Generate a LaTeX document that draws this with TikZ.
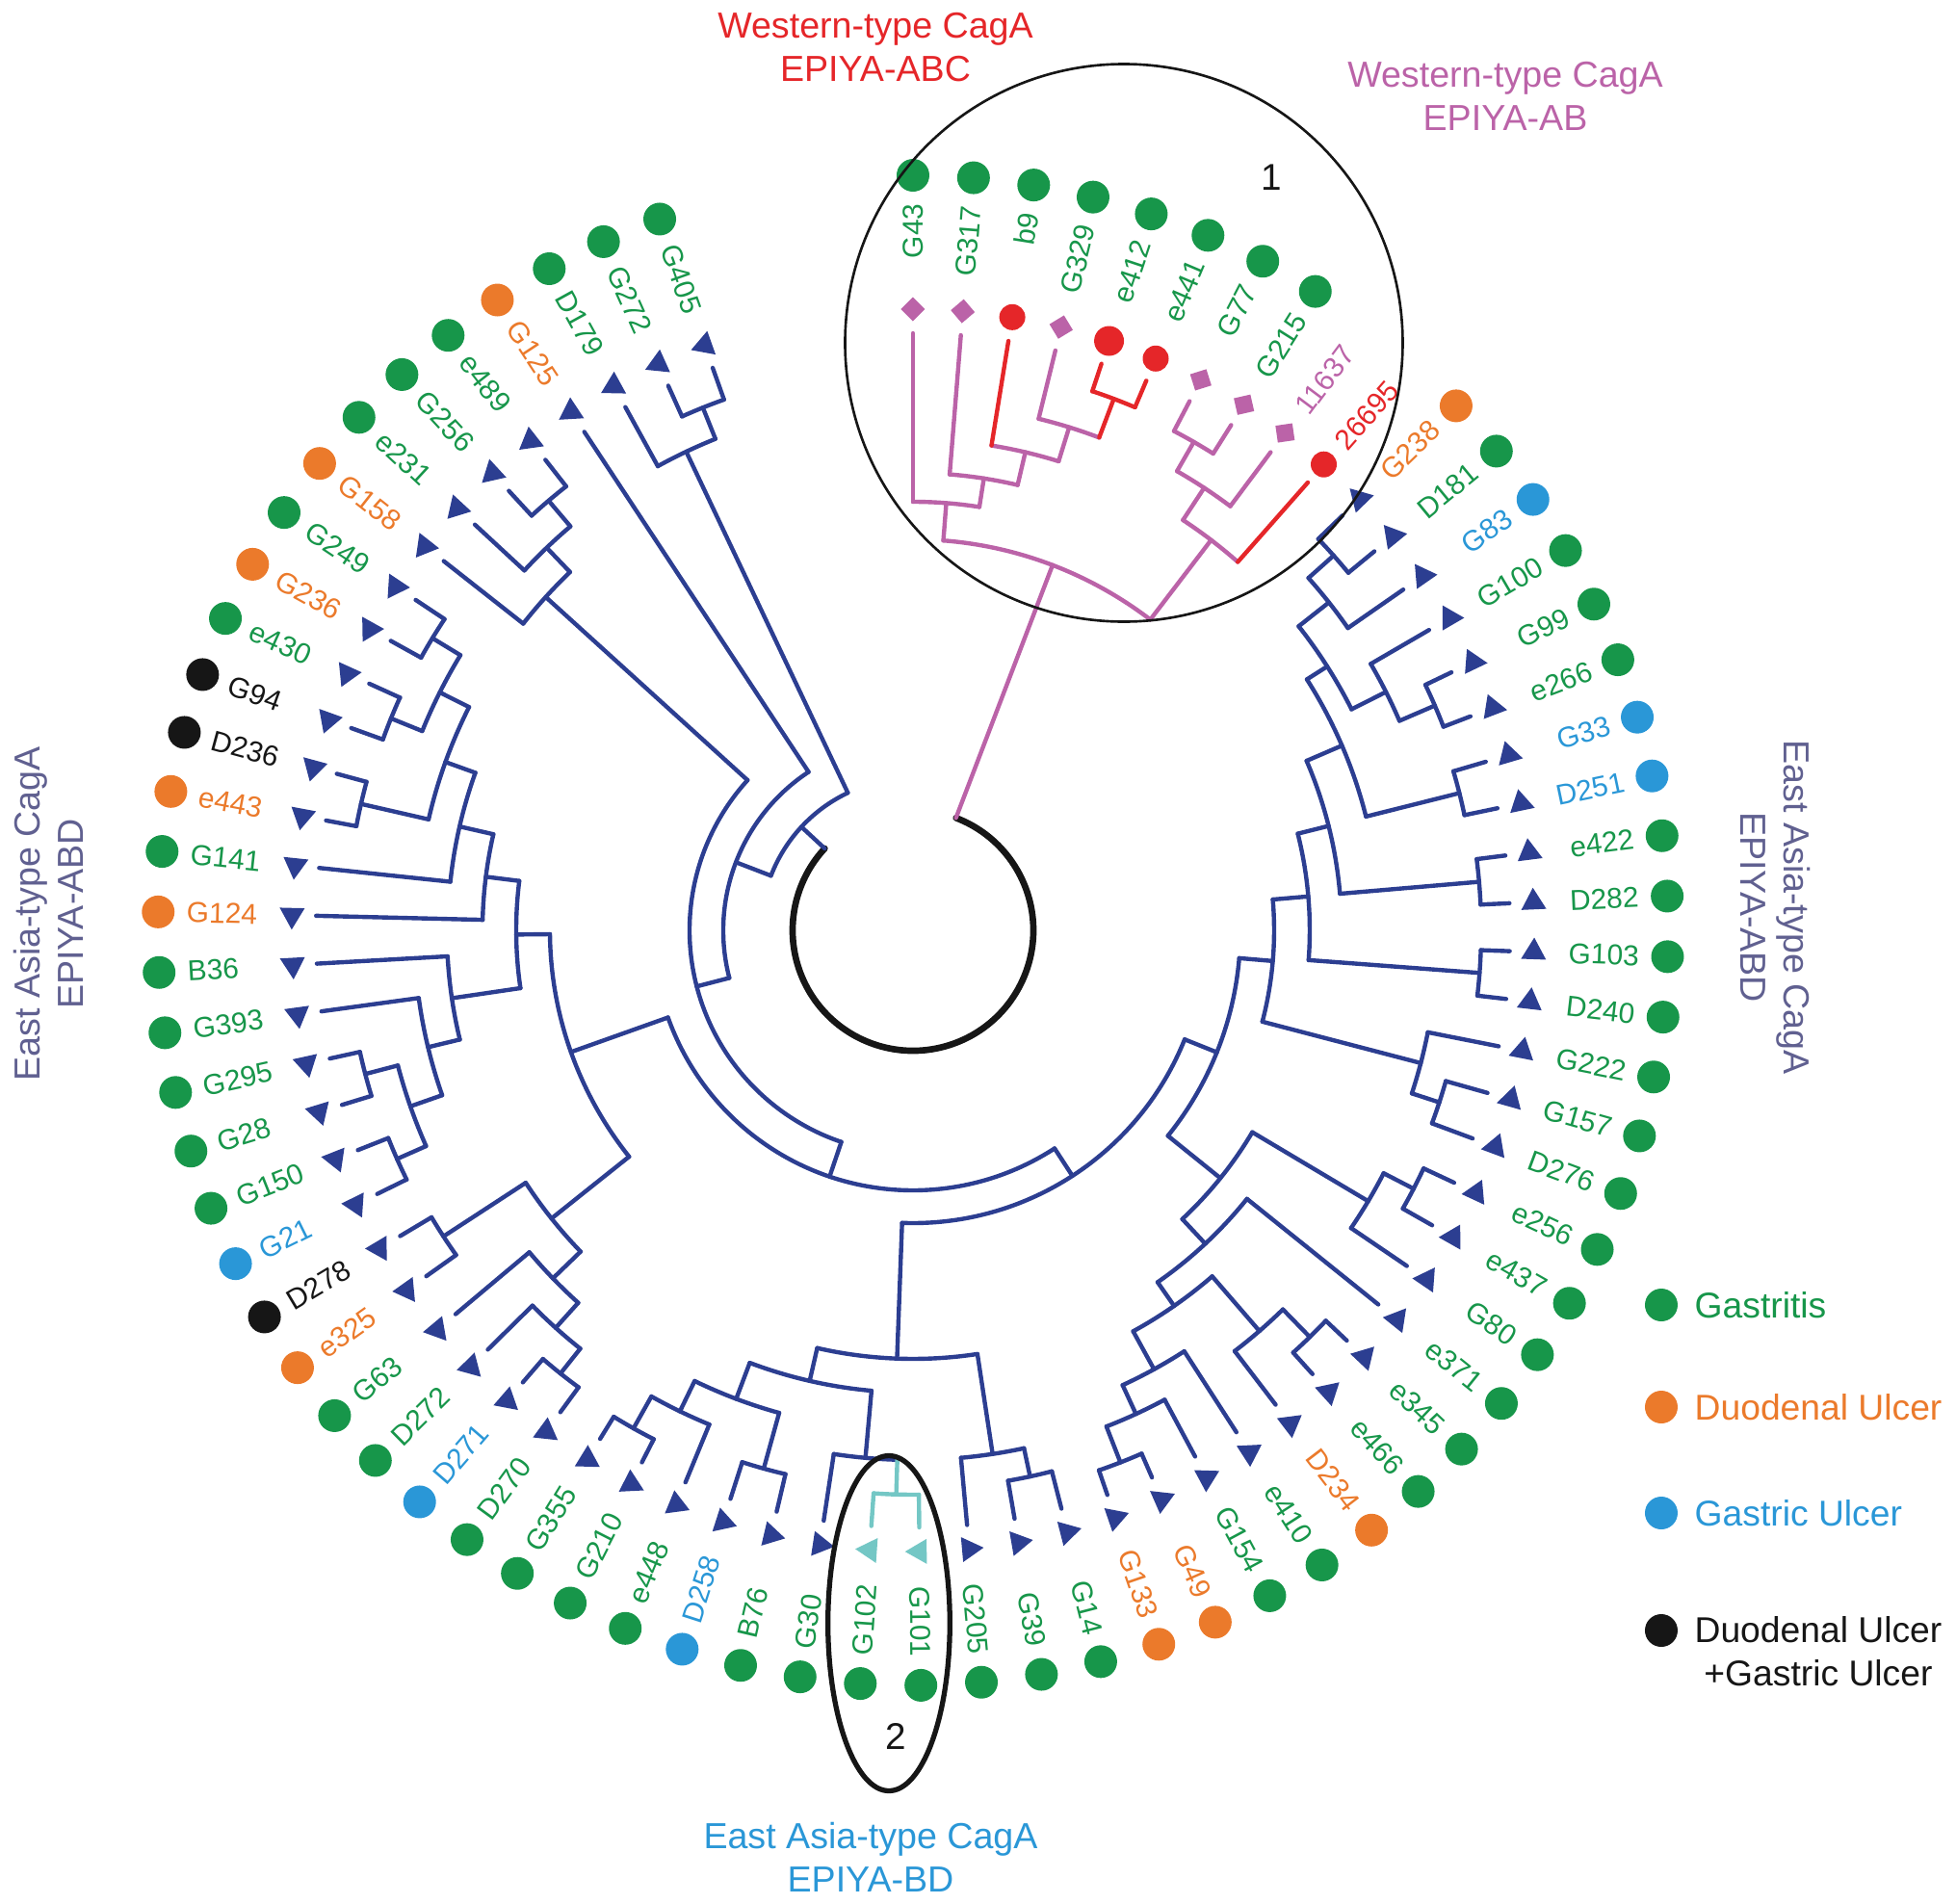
\documentclass[tikz,border=0pt]{standalone}
\usepackage{fontspec}
\setmainfont{Liberation Sans}
\usetikzlibrary{shapes.geometric}
\definecolor{gas}{HTML}{17964A}
\definecolor{duo}{HTML}{EB7A2B}
\definecolor{gul}{HTML}{2A97D7}
\definecolor{tree}{HTML}{2C3E91}
\definecolor{wab}{HTML}{BB63A8}
\definecolor{wabc}{HTML}{E52629}
\definecolor{bd}{HTML}{74C7C5}
\definecolor{abd}{HTML}{606090}
\definecolor{ink}{HTML}{161616}
\begin{document}
\begin{tikzpicture}[line join=round, line cap=round, font=\fontsize{8.5}{10}\selectfont,
  br/.style={line width=1.25pt},
  dot/.style={circle, fill, inner sep=0pt, minimum size=0.34cm},
  tip/.style={regular polygon, regular polygon sides=3, fill=tree, inner sep=0pt, minimum size=0.3cm},
  title/.style={font=\fontsize{10.7}{12.8}\selectfont, align=center, inner sep=0pt},
  legtext/.style={font=\fontsize{10.6}{12.8}\selectfont, inner sep=0pt}]
\useasboundingbox (-9.48,-10.10) rectangle (10.83,9.66);
% leaf k sits at angle 90-4.6k
% root
\draw[line width=1.9pt, ink] (69.08:1.25) arc[start angle=69.08, end angle=-222.84, radius=1.25];
% East Asian clade: arcs r/from/to
\foreach \r/\p/\q in {5.85/10/11, 5.5/10.5/12, 5.9/14/15, 5.5/13/14.5, 5.1/11.25/13.75, 5.85/16/17, 4.85/12.5/16.5, 5.9/18/19, 4.45/14.5/18.5, 5.9/20/21, 4.12/16.5/20.5, 5.75/23/24, 5.45/22/23.5, 3.75/18.5/22.75,
  5.85/25/26, 5.5/25.5/27, 5.9/29/30, 5.5/29.5/31, 5.93/34/35, 5.53/33/34.5, 5.2/32/33.75, 4.75/30.25/32.875, 4.45/28/31.563, 4.1/26.25/29.781, 3.4/20.625/28.016,
  5.5/39.5/41, 5.8/42/43, 5.93/45/46, 5.55/44/45.5, 5.2/42.5/44.75, 4.8/40.25/43.625, 5.8/36/37, 5.5/36.5/38, 4.45/37.25/41.938, 3.04/24.32/39.594,
  5.82/51/52, 5.88/47/48, 5.55/47.5/49, 5.2/48.25/50, 4.8/49.125/51.5, 5.86/53/54, 5.88/55/56, 5.53/53.5/55.5, 5.18/54.5/57, 4.84/55.75/58,
  5.88/61/62, 5.85/63/64, 5.84/65/66, 5.5/63.5/65.5, 5.16/61.5/64.5, 4.83/60/63, 4.47/59/61.5, 4.12/56.875/60.25, 3.77/50.313/58.563, 2.7/31.957/54.438,
  5.85/69/70, 5.5/68/69.5, 5.15/67/68.75, 2.32/43.197/67.875, 1.97/55.536/71, 5.85/73/74, 5.5/72/73.5, 1.58/63.268/72.75}{
  \pgfmathsetmacro\s{90-4.6*\p}\pgfmathsetmacro\e{90-4.6*\q}
  \draw[br, tree] (\s:\r) arc[start angle=\s, end angle=\e, radius=\r];}
% East Asian clade: branches at/from/to
\foreach \p/\a/\b in {10/5.85/6.2, 11/5.85/6.2, 12/5.5/6.2, 13/5.5/6.2, 14/5.9/6.2, 15/5.9/6.2, 16/5.85/6.2, 17/5.85/6.2, 18/5.9/6.2, 19/5.9/6.2, 20/5.9/6.2, 21/5.9/6.2, 22/5.45/6.2, 23/5.75/6.2, 24/5.75/6.2,
  25/5.85/6.2, 26/5.85/6.2, 27/5.5/6.2, 28/4.45/6.2, 29/5.9/6.2, 30/5.9/6.2, 31/5.5/6.2, 32/5.2/6.2, 33/5.53/6.2, 34/5.93/6.2, 35/5.93/6.2, 36/5.8/6.2, 37/5.8/6.2, 38/5.5/6.2,
  41/5.5/6.2, 42/5.8/6.2, 43/5.8/6.2, 44/5.55/6.2, 45/5.93/6.2, 46/5.93/6.2, 47/5.88/6.2, 48/5.88/6.2, 49/5.55/6.2, 50/5.2/6.2, 51/5.82/6.2, 52/5.82/6.2, 53/5.86/6.2, 54/5.86/6.2,
  55/5.88/6.2, 56/5.88/6.2, 57/5.18/6.2, 58/4.84/6.2, 59/4.47/6.2, 60/4.83/6.2, 61/5.88/6.2, 62/5.88/6.2, 63/5.85/6.2, 64/5.85/6.2, 65/5.84/6.2, 66/5.84/6.2,
  67/5.15/6.2, 68/5.5/6.2, 69/5.85/6.2, 70/5.85/6.2, 71/1.97/6.2, 72/5.5/6.2, 73/5.85/6.2, 74/5.85/6.2,
  10.5/5.5/5.85, 11.25/5.1/5.5, 14.5/5.5/5.9, 13.75/5.1/5.5, 12.5/4.85/5.1, 16.5/4.85/5.85, 14.5/4.45/4.85, 18.5/4.45/5.9, 16.5/4.12/4.45, 20.5/4.12/5.9, 18.5/3.75/4.12, 23.5/5.45/5.75, 22.75/3.75/5.45, 20.625/3.4/3.75,
  25.5/5.5/5.85, 26.25/4.1/5.5, 29.5/5.5/5.9, 30.25/4.75/5.5, 34.5/5.53/5.93, 33.75/5.2/5.53, 32.875/4.75/5.2, 31.563/4.45/4.75, 29.781/4.1/4.45, 28.016/3.4/4.1, 24.32/3.04/3.4,
  40.25/4.8/5.5, 42.5/5.2/5.8, 45.5/5.55/5.93, 44.75/5.2/5.55, 43.625/4.8/5.2, 41.938/4.45/4.8, 36.5/5.5/5.8, 37.25/4.45/5.5, 39.594/3.04/4.45, 31.957/2.7/3.04,
  51.5/4.8/5.82, 47.5/5.55/5.88, 48.25/5.2/5.55, 49.125/4.8/5.2, 50.313/3.77/4.8, 53.5/5.53/5.86, 55.5/5.53/5.88, 54.5/5.18/5.53, 55.75/4.84/5.18, 56.875/4.12/4.84,
  61.5/5.16/5.88, 63.5/5.5/5.85, 65.5/5.5/5.84, 64.5/5.16/5.5, 63/4.83/5.16, 61.5/4.47/4.83, 60.25/4.12/4.47, 58.563/3.77/4.12, 54.438/2.7/3.77, 43.197/2.32/2.7,
  69.5/5.5/5.85, 68.75/5.15/5.5, 67.875/2.32/5.15, 55.536/1.97/2.32, 63.268/1.58/1.97, 73.5/5.5/5.85, 72.75/1.58/5.5, 68.009/1.25/1.58}{
  \pgfmathsetmacro\t{90-4.6*\p}
  \draw[br, tree] (\t:\a) -- (\t:\b);}
% EPIYA-BD pair
\draw[br, bd] (-89.4:5.86) arc[start angle=-89.4, end angle=-94, radius=5.86];
\foreach \p/\a/\b in {39/5.86/6.2, 40/5.86/6.2, 39.5/5.5/5.86}{
  \pgfmathsetmacro\t{90-4.6*\p}
  \draw[br, bd] (\t:\a) -- (\t:\b);}
% Western clade
\foreach \r/\p/\q/\c in {4.06/0.969/8.125/wab, 4.45/0/1.938/wab, 4.75/1/2.875/wab, 5.1/2/3.75/wab, 5.47/3/4.5/wab, 5.85/6/7/wab, 5.5/6.5/8/wab, 5.1/7.25/9/wab, 5.9/4/5/wabc}{
  \pgfmathsetmacro\s{90-4.6*\p}\pgfmathsetmacro\e{90-4.6*\q}
  \draw[br, \c] (\s:\r) arc[start angle=\s, end angle=\e, radius=\r];}
\foreach \p/\a/\b/\c in {0/4.45/6.2/wab, 1/4.75/6.2/wab, 3/5.47/6.2/wab, 6/5.85/6.2/wab, 7/5.85/6.2/wab, 8/5.5/6.2/wab, 0.969/4.06/4.45/wab, 1.938/4.45/4.75/wab, 2.875/4.75/5.1/wab,
  3.75/5.1/5.47/wab, 6.5/5.5/5.85/wab, 7.25/5.1/5.5/wab, 8.125/4.06/5.1/wab, 4.547/1.25/4.06/wab, 2/5.1/6.2/wabc, 4/5.9/6.2/wabc, 5/5.9/6.2/wabc, 4.5/5.47/5.9/wabc, 9/5.1/6.2/wabc}{
  \pgfmathsetmacro\t{90-4.6*\p}
  \draw[br, \c] (\t:\a) -- (\t:\b);}
% tip markers
\foreach \k in {10,...,38}{\pgfmathsetmacro\a{90-4.6*\k}\node[tip, rotate=\a] (tip\k) at (\a:6.45) {};}
\foreach \k in {41,...,74}{\pgfmathsetmacro\a{90-4.6*\k}\node[tip, rotate=\a] (tip\k) at (\a:6.45) {};}
\foreach \k in {39,40}{\pgfmathsetmacro\a{90-4.6*\k}\node[tip, fill=bd, rotate=\a+180] (tip\k) at (\a:6.45) {};}
\foreach \k in {0,1,3,6,7,8}{\pgfmathsetmacro\a{90-4.6*\k}\node[regular polygon, regular polygon sides=4, fill=wab, inner sep=0pt, minimum size=0.25cm, rotate=\a+45] (tip\k) at (\a:6.45) {};}
\foreach \k/\d in {2/0.27, 4/0.31, 5/0.27, 9/0.27}{\pgfmathsetmacro\a{90-4.6*\k}\node[circle, fill=wabc, inner sep=0pt, minimum size=\d cm] (tip\k) at (\a:6.45) {};}
% isolates
\foreach \k/\nm/\cl in {0/G43/gas, 1/G317/gas, 2/b9/gas, 3/G329/gas, 4/e412/gas, 5/e441/gas, 6/G77/gas, 7/G215/gas, 8/11637/wab, 9/26695/wabc,
  10/G238/duo, 11/D181/gas, 12/G83/gul, 13/G100/gas, 14/G99/gas, 15/e266/gas, 16/G33/gul, 17/D251/gul, 18/e422/gas, 19/D282/gas, 20/G103/gas, 21/D240/gas,
  22/G222/gas, 23/G157/gas, 24/D276/gas, 25/e256/gas, 26/e437/gas, 27/G80/gas, 28/e371/gas, 29/e345/gas, 30/e466/gas, 31/D234/duo, 32/e410/gas, 33/G154/gas,
  34/G49/duo, 35/G133/duo, 36/G14/gas, 37/G39/gas, 38/G205/gas, 39/G101/gas, 40/G102/gas, 41/G30/gas, 42/B76/gas, 43/D258/gul, 44/e448/gas, 45/G210/gas,
  46/G355/gas, 47/D270/gas, 48/D271/gul, 49/D272/gas, 50/G63/gas, 51/e325/duo, 52/D278/ink, 53/G21/gul, 54/G150/gas, 55/G28/gas, 56/G295/gas, 57/G393/gas,
  58/B36/gas, 59/G124/duo, 60/G141/gas, 61/e443/duo, 62/D236/ink, 63/G94/ink, 64/e430/gas, 65/G236/duo, 66/G249/gas, 67/G158/duo, 68/e231/gas, 69/G256/gas,
  70/e489/gas, 71/G125/duo, 72/D179/gas, 73/G272/gas, 74/G405/gas}{
  \pgfmathsetmacro\a{90-4.6*\k}
  \ifnum\k<40
    \node[text=\cl, rotate=\a, anchor=east, inner sep=0pt] (lab\k) at (\a:7.55) {\nm};
  \else
    \node[text=\cl, rotate=\a+180, anchor=west, inner sep=0pt] (lab\k) at (\a:7.55) {\nm};
  \fi
  \ifnum\k<8 \node[dot, fill=\cl] (dot\k) at (\a:7.84) {};\fi
  \ifnum\k>9 \node[dot, fill=\cl] (dot\k) at (\a:7.84) {};\fi
}
% insets
\draw[line width=0.75pt, ink] (2.19,6.10) circle[radius=2.895];
\draw[line width=1.5pt, ink] (-0.25,-7.195) ellipse[x radius=0.633, y radius=1.74];
\node[font=\fontsize{11}{13}\selectfont, text=ink] (one) at (3.72,7.82) {1};
\node[font=\fontsize{11}{13}\selectfont, text=ink] (two) at (-0.18,-8.37) {2};
% group titles
\node[title, text=wabc] (tabc) at (-0.39,9.17) {Western-type CagA\\EPIYA-ABC};
\node[title, text=wab] (tab) at (6.15,8.66) {Western-type CagA\\EPIYA-AB};
\node[title, text=abd, rotate=90] (tabdw) at (-8.98,0.17) {East Asia-type CagA\\EPIYA-ABD};
\node[title, text=abd, rotate=-90] (tabde) at (8.96,0.24) {East Asia-type CagA\\EPIYA-ABD};
\node[title, text=gul] (tbd) at (-0.44,-9.62) {East Asia-type CagA\\EPIYA-BD};
% legend
\foreach \y/\cl/\txt [count=\i] in {-3.89/gas/Gastritis, -4.95/duo/Duodenal Ulcer, -6.05/gul/Gastric Ulcer}{
  \node[dot, fill=\cl] (key\i) at (7.77,\y) {};
  \node[legtext, text=\cl, anchor=west] (keytxt\i) at (8.11,\y) {\txt};}
\node[dot, fill=ink] (key4) at (7.77,-7.27) {};
\node[legtext, text=ink, align=center] (keytxt4) at (9.40,-7.49) {Duodenal Ulcer\\+Gastric Ulcer};
\end{tikzpicture}
\end{document}
